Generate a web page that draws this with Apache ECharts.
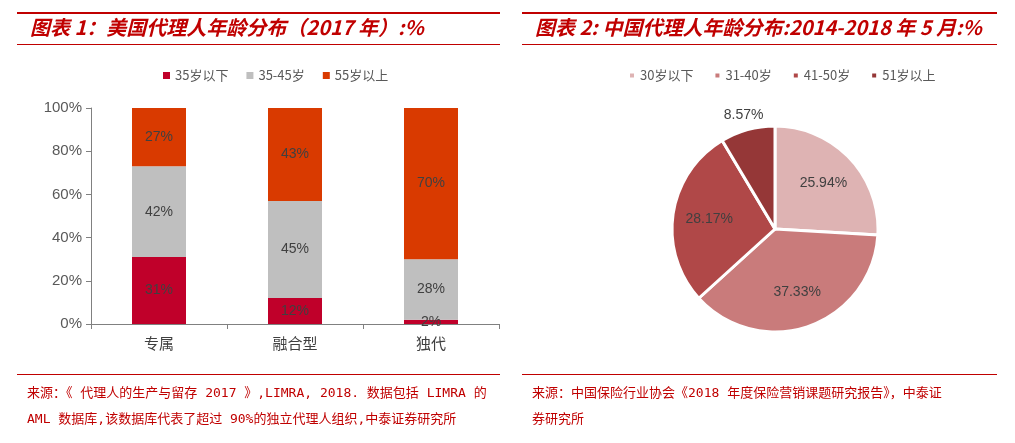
<!DOCTYPE html>
<html>
<head>
<meta charset="utf-8">
<script src="https://cdn.jsdelivr.net/npm/echarts@6/dist/echarts.min.js"></script>
<style>
  html, body { margin: 0; padding: 0; background: #fff; }
  #chart { width: 1015px; height: 443px; }
</style>
</head>
<body>
<div id="chart"></div>
<script>
// 图表1 data
const barCategories = ['专属', '融合型', '独代']
const barSeriesNames = ['35岁以下', '35-45岁', '55岁以上']
const under35 = [31, 12, 2]
const age35to45 = [42, 45, 28]
const over55 = [27, 43, 70]
const yTicks = [0, 20, 40, 60, 80, 100]

// 图表2 data
const pieNames = ['30岁以下', '31-40岁', '41-50岁', '51岁以上']
const pieValues = [25.94, 37.33, 28.17, 8.57]

const red = '#c00000'
const font = '"Noto Sans CJK SC", Arial, sans-serif'
const numFont = 'Arial, "Liberation Sans", "Noto Sans CJK SC", sans-serif'
const srcFont = '"DejaVu Sans Mono", "Noto Sans CJK SC", monospace'

const barColors = ['#c0002a', '#bfbfbf', '#d93a00']
const pieColors = ['#deb3b3', '#c97b7b', '#b04848', '#953737']

const chart = echarts.init(document.getElementById('chart'))

const barLabel = {
  show: true,
  position: 'inside',
  formatter: '{c}%',
  color: '#404040',
  fontSize: 14,
  fontFamily: numFont
}

const barData = [under35, age35to45, over55]

const hline = (x1, x2, y, w) => ({
  type: 'line',
  shape: { x1, y1: y, x2, y2: y },
  style: { stroke: red, lineWidth: w }
})

const pieLabel = {
  color: '#404040',
  fontSize: 14,
  fontFamily: numFont,
  formatter: '{c}%'
}

// transparent ring used only to place labels (inside labels sit at mid-radius)
const labelRing = (radius, showIdx) => ({
  type: 'pie',
  center: [775, 229],
  radius,
  startAngle: 90,
  clockwise: true,
  silent: true,
  itemStyle: { color: 'rgba(0,0,0,0)' },
  label: Object.assign({ show: true, position: 'inside' }, pieLabel),
  labelLine: { show: false },
  data: pieNames.map((name, i) => ({
    name, value: pieValues[i],
    label: { show: showIdx.includes(i) }
  }))
})

const option = {
  backgroundColor: '#fff',
  animation: false,
  textStyle: { fontFamily: font },
  graphic: [
    hline(17, 500, 13, 2),
    hline(17, 500, 44.5, 1),
    hline(17, 500, 374.5, 1),
    hline(522, 997, 13, 2),
    hline(522, 997, 44.5, 1),
    hline(522, 997, 374.5, 1),
    {
      type: 'text', left: 30, top: 17,
      style: {
        text: '图表 1：美国代理人年龄分布（2017 年）:%',
        fill: red, font: 'italic bold 20px ' + font
      }
    },
    {
      type: 'text', left: 535, top: 17,
      style: {
        text: '图表 2: 中国代理人年龄分布:2014-2018 年 5 月:%',
        fill: red, font: 'italic bold 20px ' + font
      }
    },
    {
      type: 'text', left: 27, top: 381,
      style: {
        text: '来源：《 代理人的生产与留存 2017 》,LIMRA, 2018. 数据包括 LIMRA 的\nAML 数据库,该数据库代表了超过 90%的独立代理人组织,中泰证券研究所',
        fill: red, font: '13px ' + srcFont, lineHeight: 26
      }
    },
    {
      type: 'text', left: 532, top: 381,
      style: {
        text: '来源：中国保险行业协会《2018 年度保险营销课题研究报告》，中泰证\n券研究所',
        fill: red, font: '13px ' + srcFont, lineHeight: 26
      }
    }
  ],
  legend: [
    {
      data: barSeriesNames,
      left: 158, top: 64,
      icon: 'rect', itemWidth: 7, itemHeight: 7, itemGap: 18,
      textStyle: { color: '#595959', fontSize: 13, fontFamily: font }
    },
    {
      data: pieNames,
      left: 623, top: 64,
      icon: 'rect', itemWidth: 6, itemHeight: 6, itemGap: 20,
      textStyle: { color: '#595959', fontSize: 13, fontFamily: font }
    }
  ],
  grid: [{ left: 91, top: 108, width: 408, height: 216 }],
  xAxis: [{
    type: 'category',
    data: barCategories,
    axisLine: { lineStyle: { color: '#808080' } },
    axisTick: { show: true, length: 5, lineStyle: { color: '#808080' } },
    axisLabel: { color: '#404040', fontSize: 15, margin: 12, fontFamily: font }
  }],
  yAxis: [{
    type: 'value',
    min: 0, max: 100, interval: 20,
    axisLine: { show: true, lineStyle: { color: '#808080' } },
    axisTick: { show: true, length: 5, lineStyle: { color: '#808080' } },
    splitLine: { show: false },
    axisLabel: {
      color: '#595959', fontSize: 15, margin: 9, fontFamily: numFont,
      formatter: v => yTicks.includes(v) ? v + '%' : ''
    }
  }],
  series: [
    ...barSeriesNames.map((name, i) => ({
      name,
      type: 'bar',
      stack: 'age',
      barWidth: 54,
      data: barData[i],
      itemStyle: { color: barColors[i] },
      label: barLabel
    })),
    // visible pie
    {
      type: 'pie',
      center: [775, 229],
      radius: 103,
      startAngle: 90,
      clockwise: true,
      color: pieColors,
      itemStyle: { borderColor: '#fff', borderWidth: 3 },
      label: { show: false },
      labelLine: { show: false },
      emphasis: { disabled: true },
      data: pieNames.map((name, i) => ({ name, value: pieValues[i] }))
    },
    labelRing([24, 103], [0, 1, 2]),
    labelRing([104, 126], [3])
  ]
}

chart.setOption(option)
</script>
</body>
</html>
